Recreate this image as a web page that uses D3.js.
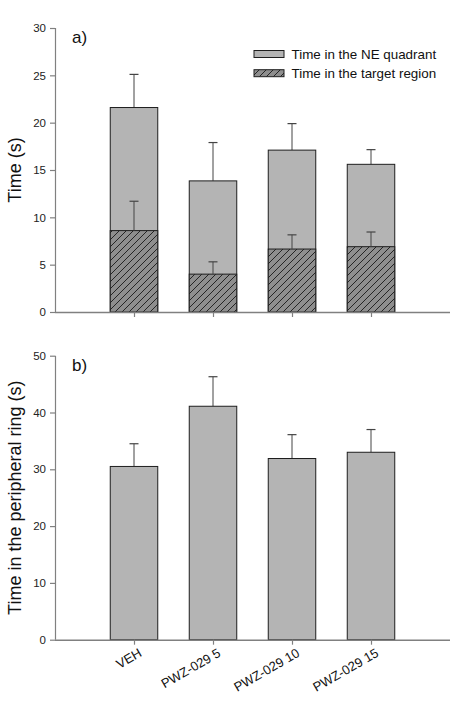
<!DOCTYPE html>
<html><head><meta charset="utf-8">
<script src="https://cdn.jsdelivr.net/npm/d3@7"></script>
<style>body{margin:0;background:#fff}svg{display:block;font-family:Arial,"Liberation Sans",sans-serif}</style>
</head><body>
<svg id="chart" width="472" height="713"></svg>
<script>
const categories = ["VEH", "PWZ-029 5", "PWZ-029 10", "PWZ-029 15"];
const neQuadrant = [21.6, 13.85, 17.1, 15.6];
const neQuadrantErr = [3.5, 4.05, 2.8, 1.55];
const targetRegion = [8.6, 4.0, 6.65, 6.9];
const targetRegionErr = [3.1, 1.3, 1.5, 1.55];
const peripheralRing = [30.5, 41.1, 31.9, 33.0];
const peripheralRingErr = [4.0, 5.2, 4.2, 4.0];
const ticksA = [0, 5, 10, 15, 20, 25, 30];
const ticksB = [0, 10, 20, 30, 40, 50];
const legendLabels = ["Time in the NE quadrant", "Time in the target region"];

const svg = d3.select("#chart");
const defs = svg.append("defs");
const pat = defs.append("pattern").attr("id","hatch").attr("patternUnits","userSpaceOnUse")
  .attr("width",7).attr("height",7);
pat.append("rect").attr("width",7).attr("height",7).attr("fill","#8e8e8e");
pat.append("path").attr("d","M0,7 L7,0 M-1,1 L1,-1 M6,8 L8,6").attr("stroke","#1a1a1a").attr("stroke-width",0.9);

const x = d3.scaleLinear().domain([0, categories.length + 1]).range([55, 450]);
const bw = 47.5;
const axisColor = "#808080";
const barFill = "#b4b4b4";
const barStroke = "#1e1e1e";

function drawPanel(yTop, yBottom, domainMax, ticks, layers, label, title, showX) {
  const y = d3.scaleLinear().domain([0, domainMax]).range([yBottom, yTop]);
  const g = svg.append("g");
  const ya = g.append("g").attr("transform","translate(55,0)")
    .call(d3.axisLeft(y).tickValues(ticks).tickSize(5).tickPadding(4).tickFormat(d3.format("d")));
  ya.select(".domain").attr("stroke", axisColor).attr("stroke-width",1.2).attr("d", `M0.5,${yBottom}V${yTop}`);
  ya.selectAll(".tick line").attr("stroke", axisColor).attr("stroke-width",1.2);
  ya.selectAll(".tick text").attr("font-size","11.5px").attr("fill","#222").attr("font-family","Arial, 'Liberation Sans', sans-serif");
  function errBars(L) {
    g.selectAll(null).data(L.values).enter().append("line")
      .attr("x1",(d,i)=>x(i+1)).attr("x2",(d,i)=>x(i+1))
      .attr("y1",d=>y(d)).attr("y2",(d,i)=>y(d+L.err[i]))
      .attr("stroke","#444").attr("stroke-width",1);
    g.selectAll(null).data(L.values).enter().append("line")
      .attr("x1",(d,i)=>x(i+1)-4.5).attr("x2",(d,i)=>x(i+1)+4.5)
      .attr("y1",(d,i)=>y(d+L.err[i])).attr("y2",(d,i)=>y(d+L.err[i]))
      .attr("stroke","#444").attr("stroke-width",1.2);
  }
  errBars(layers[0]);
  layers.forEach(L => {
    g.selectAll(null).data(L.values).enter().append("rect")
      .attr("x",(d,i)=>x(i+1)-bw/2).attr("width",bw)
      .attr("y",d=>y(d)).attr("height",d=>y(0)-y(d))
      .attr("fill",L.fill).attr("stroke",barStroke).attr("stroke-width",1);
  });
  layers.slice(1).forEach(errBars);
  const xa = g.append("g").attr("transform",`translate(0,${yBottom})`)
    .call(d3.axisBottom(x).tickValues(categories.map((c,i)=>i+1)).tickSize(5).tickFormat(""));
  xa.select(".domain").attr("stroke", axisColor).attr("stroke-width",1.5).attr("d","M55,0.5H450");
  xa.selectAll(".tick line").attr("stroke", axisColor).attr("stroke-width",1.2);
  if (showX) {
    categories.forEach((c,i) => {
      g.append("text").attr("transform",`translate(${x(i+1)+4},${yBottom+8}) rotate(-30)`)
        .attr("text-anchor","end").attr("dy","0.7em").attr("font-size","13px").attr("fill","#111").text(c);
    });
  }
  g.append("text").attr("x",72).attr("y",yTop+15).attr("font-size","17px").attr("fill","#111").text(label);
  g.append("text").attr("transform",`translate(21,${(yTop+yBottom)/2}) rotate(-90)`)
    .attr("text-anchor","middle").attr("font-size","18px").attr("fill","#111").text(title);
  return y;
}

drawPanel(28, 312, 30, ticksA, [
  {values: neQuadrant, err: neQuadrantErr, fill: barFill},
  {values: targetRegion, err: targetRegionErr, fill: "url(#hatch)"}
], "a)", "Time (s)", false);

drawPanel(355.7, 639.7, 50, ticksB, [
  {values: peripheralRing, err: peripheralRingErr, fill: barFill}
], "b)", "Time in the peripheral ring (s)", true);

const lg = svg.append("g");
legendLabels.forEach((t,i) => {
  lg.append("rect").attr("x",254).attr("y",50.5+i*19.2).attr("width",30).attr("height",7)
    .attr("fill", i===0 ? barFill : "url(#hatch)").attr("stroke",barStroke).attr("stroke-width",1);
  lg.append("text").attr("x",291.5).attr("y",59+i*19.2).attr("font-size","13.4px").attr("fill","#111").text(t);
});
</script>
</body></html>
